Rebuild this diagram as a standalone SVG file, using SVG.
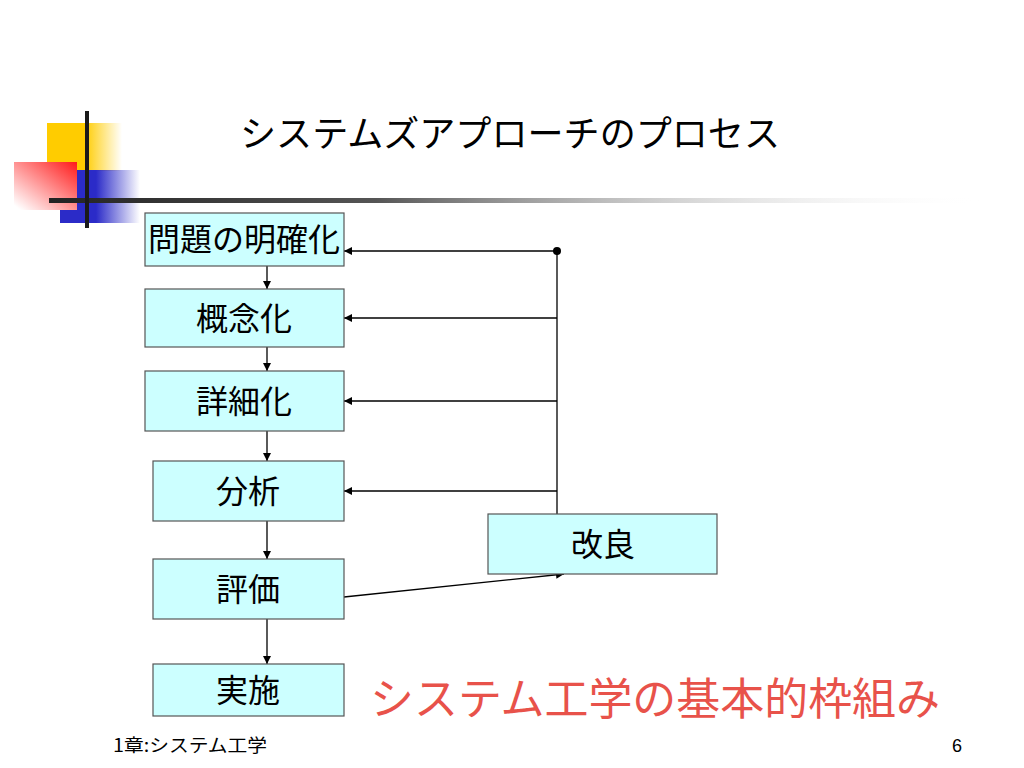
<svg xmlns="http://www.w3.org/2000/svg" width="1024" height="768" viewBox="0 0 1024 768">
<defs>
<linearGradient id="gy" x1="0" y1="0" x2="1" y2="0"><stop offset="0" stop-color="#ffcc00"/><stop offset="0.5" stop-color="#ffcc00"/><stop offset="1" stop-color="#ffcc00" stop-opacity="0"/></linearGradient>
<linearGradient id="gb" x1="0" y1="0" x2="1" y2="0"><stop offset="0" stop-color="#2b2bc8"/><stop offset="0.45" stop-color="#2b2bc8"/><stop offset="1" stop-color="#2b2bc8" stop-opacity="0"/></linearGradient>
<linearGradient id="gr" x1="1" y1="0" x2="0" y2="1"><stop offset="0" stop-color="#ff1a1a"/><stop offset="0.95" stop-color="#ffffff"/></linearGradient>
<linearGradient id="gl" x1="0" y1="0" x2="1" y2="0"><stop offset="0" stop-color="#222"/><stop offset="0.35" stop-color="#555"/><stop offset="1" stop-color="#fff" stop-opacity="0"/></linearGradient>
<marker id="ah" viewBox="0 0 10 10" refX="10" refY="5" markerWidth="8" markerHeight="8" markerUnits="userSpaceOnUse" orient="auto"><path d="M0,0 L10,5 L0,10 z" fill="#000"/></marker>
<style>
.box{fill:#ccffff;stroke:#555;stroke-width:1.2}
.lbl{font-family:"Noto Sans CJK JP","Liberation Sans",sans-serif;font-size:32px;fill:#000;text-anchor:middle}
.con{stroke:#000;stroke-width:1.3;fill:none}
</style>
</defs>
<rect width="1024" height="768" fill="#fff"/>
<g id="deco">
<rect x="47" y="123" width="75" height="48" fill="url(#gy)"/>
<rect x="60" y="170" width="80" height="53" fill="url(#gb)"/>
<rect x="14" y="162" width="63" height="48" fill="url(#gr)"/>
<rect x="49" y="198" width="935" height="5" fill="url(#gl)"/>
<rect x="85" y="111" width="4" height="117" fill="#1a1a1a"/>
</g>
<text id="title" x="240" y="147" font-family="Noto Sans CJK JP, Liberation Sans, sans-serif" font-size="36" textLength="540" lengthAdjust="spacingAndGlyphs" fill="#000">システムズアプローチのプロセス</text>
<g id="connectors">
<line class="con" x1="267" y1="266" x2="267" y2="289" marker-end="url(#ah)"/>
<line class="con" x1="267" y1="347" x2="267" y2="371" marker-end="url(#ah)"/>
<line class="con" x1="267" y1="431" x2="267" y2="461" marker-end="url(#ah)"/>
<line class="con" x1="267" y1="521" x2="267" y2="559" marker-end="url(#ah)"/>
<line class="con" x1="267" y1="619" x2="267" y2="664" marker-end="url(#ah)"/>
<line class="con" x1="557" y1="514" x2="557" y2="251"/>
<circle cx="557" cy="251" r="4" fill="#000"/>
<line class="con" x1="557" y1="251" x2="344" y2="251" marker-end="url(#ah)"/>
<line class="con" x1="557" y1="318" x2="344" y2="318" marker-end="url(#ah)"/>
<line class="con" x1="557" y1="401" x2="344" y2="401" marker-end="url(#ah)"/>
<line class="con" x1="557" y1="491" x2="344" y2="491" marker-end="url(#ah)"/>
<line class="con" x1="344" y1="597" x2="564" y2="574" marker-end="url(#ah)"/>
</g>
<g id="n1"><rect class="box" x="145" y="213" width="199" height="53"/><text class="lbl" x="244" y="251">問題の明確化</text></g>
<g id="n2"><rect class="box" x="145" y="289" width="199" height="58"/><text class="lbl" x="244" y="330">概念化</text></g>
<g id="n3"><rect class="box" x="145" y="371" width="199" height="60"/><text class="lbl" x="244" y="413">詳細化</text></g>
<g id="n4"><rect class="box" x="153" y="461" width="191" height="60"/><text class="lbl" x="248" y="503">分析</text></g>
<g id="n5"><rect class="box" x="153" y="559" width="191" height="60"/><text class="lbl" x="248" y="601">評価</text></g>
<g id="n6"><rect class="box" x="153" y="664" width="191" height="52"/><text class="lbl" x="248" y="702">実施</text></g>
<g id="n7"><rect class="box" x="488" y="514" width="229" height="60"/><text class="lbl" x="603" y="556">改良</text></g>
<text id="caption" x="370" y="715" font-family="Noto Sans CJK JP, Liberation Sans, sans-serif" font-size="44" textLength="570" lengthAdjust="spacingAndGlyphs" fill="#e8524a">システム工学の基本的枠組み</text>
<text id="footer" x="113" y="752" font-family="Noto Sans CJK JP, Liberation Sans, sans-serif" font-size="18" textLength="154" lengthAdjust="spacingAndGlyphs" fill="#000">1章:システム工学</text>
<text id="page" x="962" y="752" font-family="Liberation Sans, sans-serif" font-size="18" fill="#000" text-anchor="end">6</text>
</svg>
